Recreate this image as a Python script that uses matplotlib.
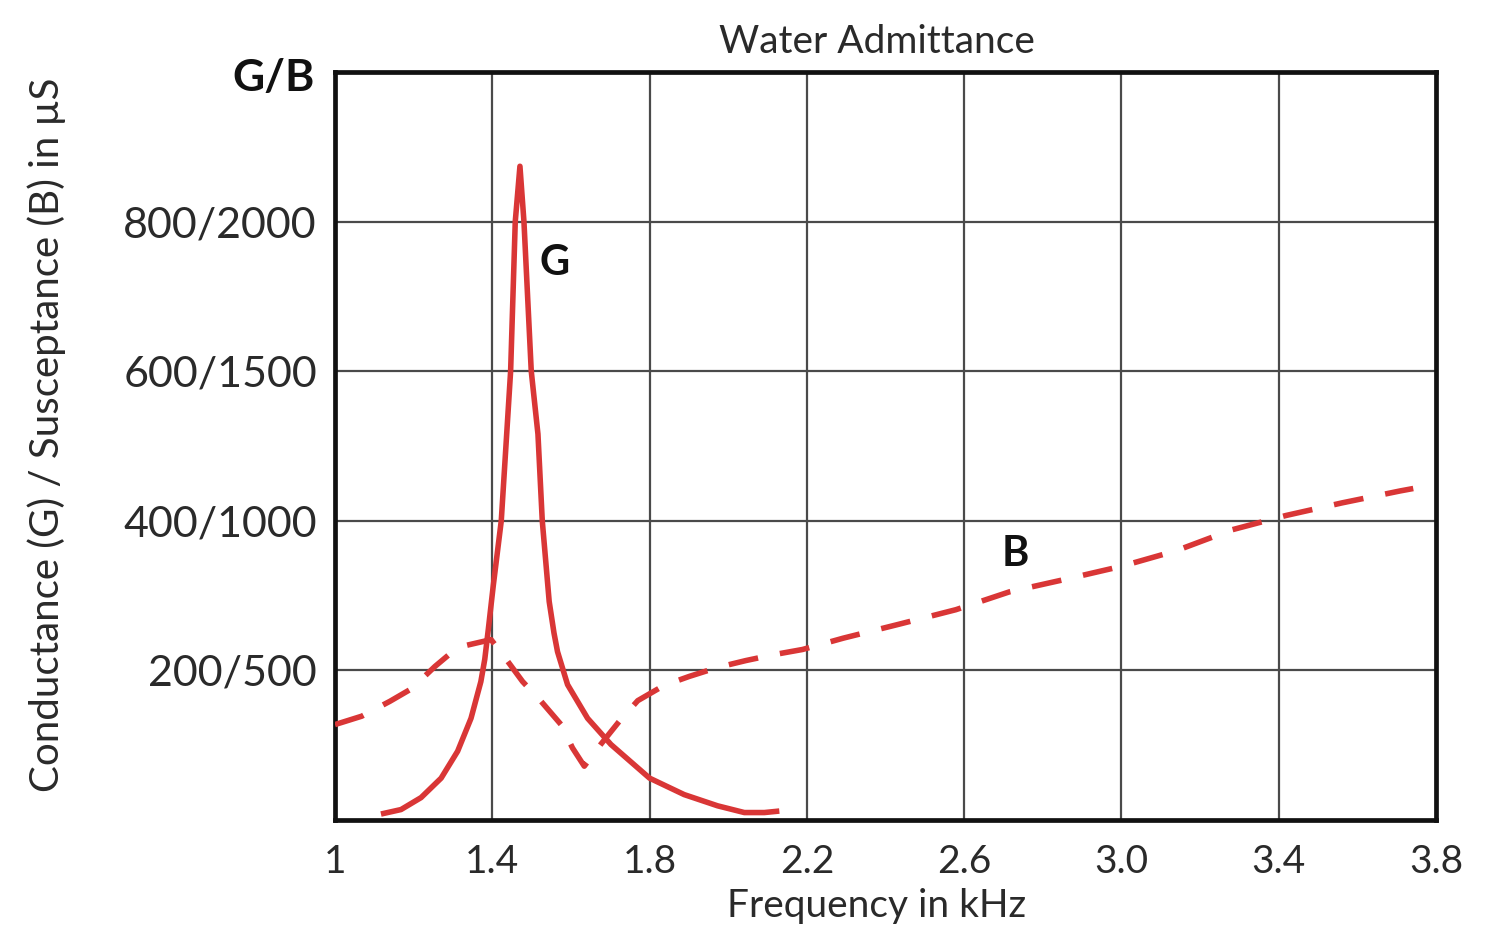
import numpy as np
import matplotlib
matplotlib.use("Agg")
import matplotlib.pyplot as plt

plt.rcParams['font.family'] = ['Lato', 'DejaVu Sans']

# Conductance G (uS)
g_freq = [1.117, 1.168, 1.219, 1.27, 1.312, 1.346, 1.371, 1.381, 1.390, 1.4025,
          1.4229, 1.4467, 1.4585, 1.4704, 1.4806, 1.4992, 1.5162, 1.5272, 1.5448,
          1.557, 1.566, 1.5915, 1.6424, 1.7018, 1.80, 1.888, 1.973, 2.041, 2.092,
          2.130]
g_vals = [8, 14, 30, 56, 92, 136, 185, 215, 255, 313,
          400, 600, 800, 874, 800, 600, 516, 400, 292,
          250, 225, 181, 136, 101, 56, 34, 19, 10, 10,
          12]

# Susceptance B (uS), drawn on the same grid (B axis is 2.5x the G axis)
b_freq = [1.0, 1.068, 1.14, 1.195, 1.254, 1.312, 1.397, 1.43, 1.477, 1.524,
          1.575, 1.604, 1.634, 1.676, 1.723, 1.77, 1.837, 1.901, 1.973, 2.045,
          2.117, 2.189, 2.293, 2.436, 2.579, 2.716, 2.859, 3.0, 3.139, 3.281,
          3.419, 3.561, 3.709, 3.742]
b_vals = [319, 347, 397, 439, 513, 577, 603, 547, 463, 397,
          319, 241, 180, 253, 330, 399, 450, 480, 510, 533,
          553, 570, 608, 655, 703, 763, 805, 848, 900, 970,
          1018, 1060, 1100, 1108]
b_scale = 2.5

x_ticks = [1.0, 1.4, 1.8, 2.2, 2.6, 3.0, 3.4, 3.8]
x_labels = ['1', '1.4', '1.8', '2.2', '2.6', '3.0', '3.4', '3.8']
y_ticks = [200, 400, 600, 800]
y_labels = ['200/500', '400/1000', '600/1500', '800/2000']

red = '#d93636'
txt = '#2a2a2a'
fs = 28

fig = plt.figure(figsize=(14.9, 9.39), dpi=100)
ax = fig.add_axes([0.2248, 0.1267, 0.7390, 0.7966])

ax.plot(g_freq, g_vals, color=red, lw=4.0, solid_joinstyle='round',
        solid_capstyle='butt', zorder=3)
ax.plot(b_freq, np.array(b_vals) / b_scale, color=red, lw=4.0,
        linestyle=(0, (5.4, 4.0)), zorder=3)

ax.set_xlim(1.0, 3.8)
ax.set_ylim(0, 1000)
ax.set_xticks(x_ticks)
ax.set_xticklabels(x_labels)
ax.set_yticks(y_ticks)
ax.set_yticklabels(y_labels)
ax.tick_params(length=0, labelsize=fs, labelcolor=txt)
ax.tick_params(axis='y', labelsize=31, pad=13)
ax.tick_params(axis='x', pad=17)

ax.grid(True, color='#4a4a4a', lw=1.6)
ax.set_axisbelow(True)
for s in ax.spines.values():
    s.set_linewidth(3.4)
    s.set_color('#111111')

ax.set_title('Water Admittance', fontsize=fs, color=txt, pad=14, x=0.492)
ax.set_xlabel('Frequency in kHz', fontsize=fs, color=txt, labelpad=6, x=0.492)
fig.text(0.031, 0.537, 'Conductance (G) / Susceptance (B) in µS', rotation=90,
         fontsize=29, color=txt, ha='center', va='center')

ax.text(-0.018, 0.992, 'G/B', transform=ax.transAxes, ha='right', va='center',
        fontsize=32, fontweight='bold', color='#111111')
ax.text(1.5595, 745, 'G', fontsize=30, fontweight='bold', color='#111111',
        ha='center', va='center')
ax.text(2.73, 355, 'B', fontsize=30, fontweight='bold', color='#111111',
        ha='center', va='center')

fig.savefig('out.png', dpi=100)
